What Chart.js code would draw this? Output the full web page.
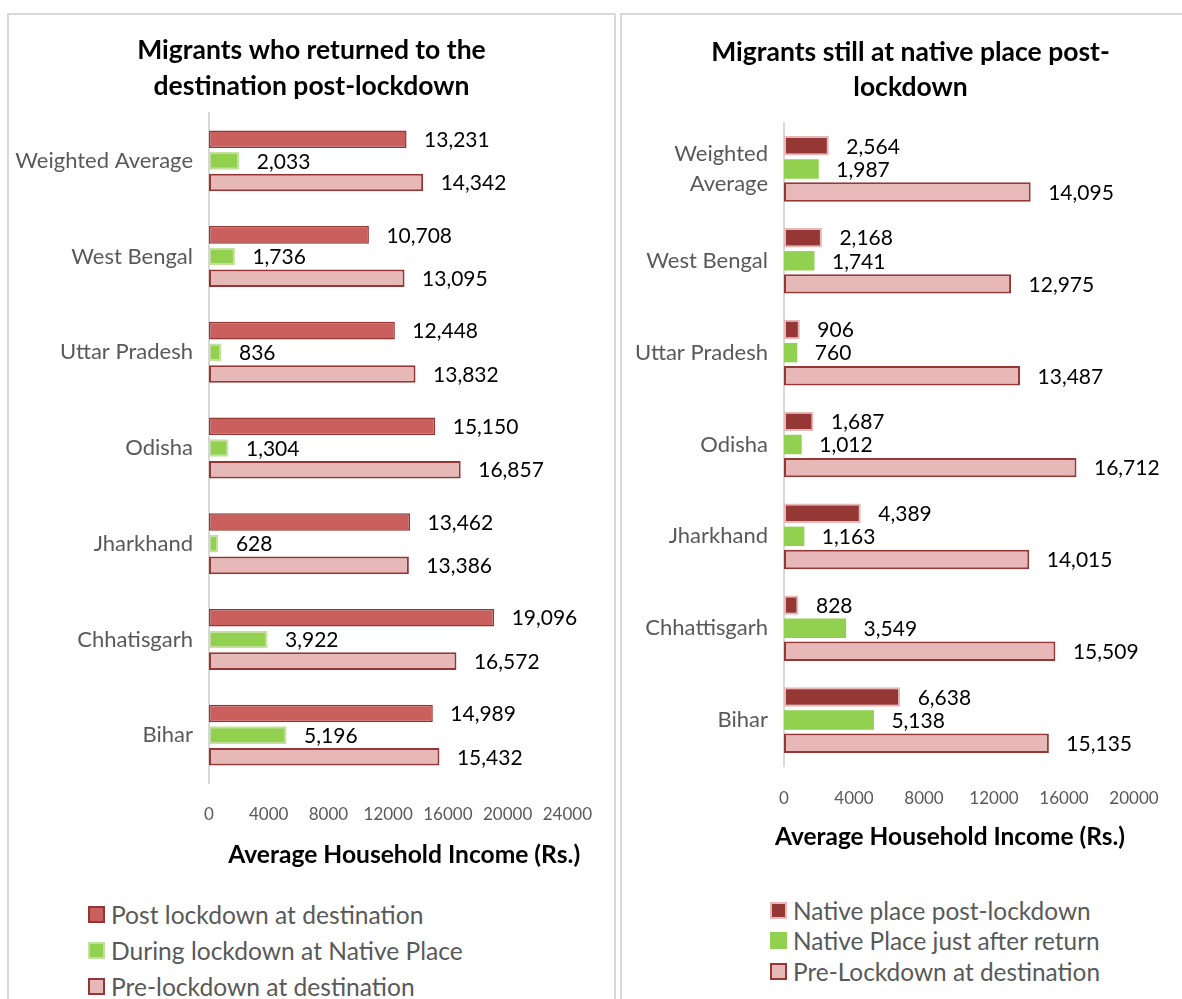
<!DOCTYPE html>
<html><head><meta charset="utf-8">
<script src="https://cdn.jsdelivr.net/npm/chart.js@4.4.1/dist/chart.umd.min.js"></script>
<style>
html,body{margin:0;padding:0;background:#fff;}
body{width:1182px;height:999px;overflow:hidden;position:relative;font-family:Lato,"Open Sans",sans-serif;}
.panel{position:absolute;border:2px solid #d9d9d9;box-sizing:border-box;background:#fff;}
#p1{left:7px;top:13px;width:609px;height:1010px;}
#p2{left:620px;top:13px;width:600px;height:1010px;}
.cv{position:absolute;}
#c1{left:10px;top:16px;}
#c2{left:623px;top:16px;}
.legend{position:absolute;color:#595959;}
.legend .item{display:flex;align-items:center;white-space:nowrap;}
.legend .box{box-sizing:border-box;width:17px;height:17px;border:2px solid;margin-right:6px;flex:none;}
#lg1{left:88px;top:896px;font-size:24.6px;}
#lg1 .item{height:36px;}
#lg2{left:770px;top:895px;font-size:24.4px;}
#lg2 .item{height:30.5px;}
</style></head>
<body>
<div class="panel" id="p1"></div>
<div class="panel" id="p2"></div>
<div class="cv" id="c1"><canvas id="chart1" width="603" height="851" style="width:603px;height:851px"></canvas></div>
<div class="cv" id="c2"><canvas id="chart2" width="575" height="833" style="width:575px;height:833px"></canvas></div>
<div class="legend" id="lg1"></div>
<div class="legend" id="lg2"></div>
<script>
// ---- Data ----
const leftTitle = ['Migrants who returned to the', 'destination post-lockdown'];
const rightTitle = ['Migrants still at native place post-', 'lockdown'];
const axisTitle = 'Average Household Income (Rs.)';

const leftCategories = ['Weighted Average', 'West Bengal', 'Uttar Pradesh', 'Odisha', 'Jharkhand', 'Chhatisgarh', 'Bihar'];
const leftSeriesNames = ['Post lockdown at destination', 'During lockdown at Native Place', 'Pre-lockdown at destination'];
const leftPostLockdown = [13231, 10708, 12448, 15150, 13462, 19096, 14989];
const leftDuringLockdown = [2033, 1736, 836, 1304, 628, 3922, 5196];
const leftPreLockdown = [14342, 13095, 13832, 16857, 13386, 16572, 15432];
const leftTicks = [0, 4000, 8000, 12000, 16000, 20000, 24000];

const rightCategories = [['Weighted', 'Average'], 'West Bengal', 'Uttar Pradesh', 'Odisha', 'Jharkhand', 'Chhattisgarh', 'Bihar'];
const rightSeriesNames = ['Native place post-lockdown', 'Native Place just after return', 'Pre-Lockdown at destination'];
const rightNativePost = [2564, 2168, 906, 1687, 4389, 828, 6638];
const rightJustAfter = [1987, 1741, 760, 1012, 1163, 3549, 5138];
const rightPreLockdown = [14095, 12975, 13487, 16712, 14015, 15509, 15135];
const rightTicks = [0, 4000, 8000, 12000, 16000, 20000];

// ---- Styles ----
const FONT = 'Lato';
const GREY = '#595959';

const valueLabels = {
  id: 'valueLabels',
  afterDatasetsDraw(chart, args, opts) {
    const ctx = chart.ctx;
    ctx.save();
    ctx.font = `${opts.size}px ${FONT}`;
    ctx.fillStyle = '#000';
    ctx.textAlign = 'left';
    ctx.textBaseline = 'middle';
    chart.data.datasets.forEach((ds, i) => {
      const meta = chart.getDatasetMeta(i);
      meta.data.forEach((bar, j) => {
        ctx.fillText(ds.data[j].toLocaleString('en-US'), bar.x + opts.offset, bar.y + 1);
      });
    });
    ctx.restore();
  }
};

function makeChart(id, cfg) {
  return new Chart(document.getElementById(id), {
    type: 'bar',
    data: {
      labels: cfg.labels,
      datasets: cfg.datasets.map(d => Object.assign({
        borderSkipped: false,
        categoryPercentage: cfg.catPct,
        barPercentage: cfg.barPct
      }, d))
    },
    options: {
      indexAxis: 'y',
      responsive: false,
      animation: false,
      devicePixelRatio: 1,
      layout: { padding: 0 },
      plugins: {
        legend: { display: false },
        tooltip: { enabled: false },
        title: {
          display: true,
          text: cfg.title,
          color: '#000',
          font: { family: FONT, size: 26.5, weight: 'bold', lineHeight: cfg.titleLH },
          padding: cfg.titlePad
        },
        valueLabels: { size: 21, offset: 17.5 }
      },
      scales: {
        x: {
          type: 'linear',
          min: 0,
          max: cfg.ticks[cfg.ticks.length - 1],
          afterBuildTicks(scale) { scale.ticks = cfg.ticks.map(v => ({ value: v })); },
          grid: { display: false, drawTicks: false },
          border: { display: false },
          ticks: {
            color: GREY,
            padding: cfg.tickPad,
            font: { family: FONT, size: 17 },
            maxRotation: 0,
            autoSkip: false,
            callback: v => String(v)
          },
          title: {
            display: true,
            text: axisTitle,
            color: '#000',
            font: { family: FONT, size: 24.6, weight: 'bold', lineHeight: 1.0 },
            padding: { top: 0, bottom: 0 }
          },
          afterFit(scale) {
            scale.height = cfg.xHeight;
            if (!scale._titleShifted) {
              const orig = scale.drawTitle;
              scale.drawTitle = function () {
                const ctx = this.ctx;
                ctx.save();
                ctx.translate(cfg.titleShift, 0);
                orig.apply(this, arguments);
                ctx.restore();
              };
              scale._titleShifted = true;
            }
          }
        },
        y: {
          grid: { display: false, drawTicks: false },
          border: { display: true, color: '#d9d9d9', width: 2 },
          ticks: {
            color: GREY,
            padding: 16,
            font: { family: FONT, size: 22, lineHeight: 1.37 },
            autoSkip: false
          },
          afterFit(scale) { scale.width = cfg.yWidth; }
        },
        yRight: {
          type: 'category',
          position: 'right',
          display: true,
          grid: { display: false, drawTicks: false },
          border: { display: false },
          ticks: { display: false },
          afterFit(scale) { scale.width = cfg.padRight; }
        }
      }
    },
    plugins: [valueLabels]
  });
}

const c1 = makeChart('chart1', {
  labels: leftCategories,
  title: leftTitle,
  titleLH: 36 / 26.5,
  titlePad: { top: 16, bottom: 9 },
  ticks: leftTicks,
  tickPad: 21,
  xHeight: 84,
  yWidth: 199,
  padRight: 45,
  titleShift: 16,
  catPct: 0.68,
  barPct: 0.81,
  datasets: [
    { label: leftSeriesNames[0], data: leftPostLockdown, backgroundColor: '#C9605E', borderColor: '#963634', borderWidth: 1.5 },
    { label: leftSeriesNames[1], data: leftDuringLockdown, backgroundColor: '#92D050', borderColor: '#C4E0A0', borderWidth: 2 },
    { label: leftSeriesNames[2], data: leftPreLockdown, backgroundColor: '#E6B9B8', borderColor: '#963634', borderWidth: 2 }
  ]
});

const c2 = makeChart('chart2', {
  labels: rightCategories,
  title: rightTitle,
  titleLH: 35 / 26.5,
  titlePad: { top: 18.5, bottom: 18.5 },
  ticks: rightTicks,
  tickPad: 22,
  xHeight: 83,
  yWidth: 161,
  padRight: 64,
  titleShift: -9,
  catPct: 0.755,
  barPct: 0.84,
  datasets: [
    { label: rightSeriesNames[0], data: rightNativePost, backgroundColor: '#953735', borderColor: '#E6B9B8', borderWidth: 2 },
    { label: rightSeriesNames[1], data: rightJustAfter, backgroundColor: '#92D050', borderColor: '#92D050', borderWidth: 0 },
    { label: rightSeriesNames[2], data: rightPreLockdown, backgroundColor: '#E6B9B8', borderColor: '#953735', borderWidth: 2 }
  ]
});

function buildLegend(chart, elId) {
  const el = document.getElementById(elId);
  chart.data.datasets.forEach(ds => {
    const item = document.createElement('div');
    item.className = 'item';
    const box = document.createElement('span');
    box.className = 'box';
    box.style.background = ds.backgroundColor;
    box.style.borderColor = ds.borderWidth ? ds.borderColor : ds.backgroundColor;
    const txt = document.createElement('span');
    txt.textContent = ds.label;
    item.appendChild(box);
    item.appendChild(txt);
    el.appendChild(item);
  });
}
buildLegend(c1, 'lg1');
buildLegend(c2, 'lg2');
</script>
</body></html>
